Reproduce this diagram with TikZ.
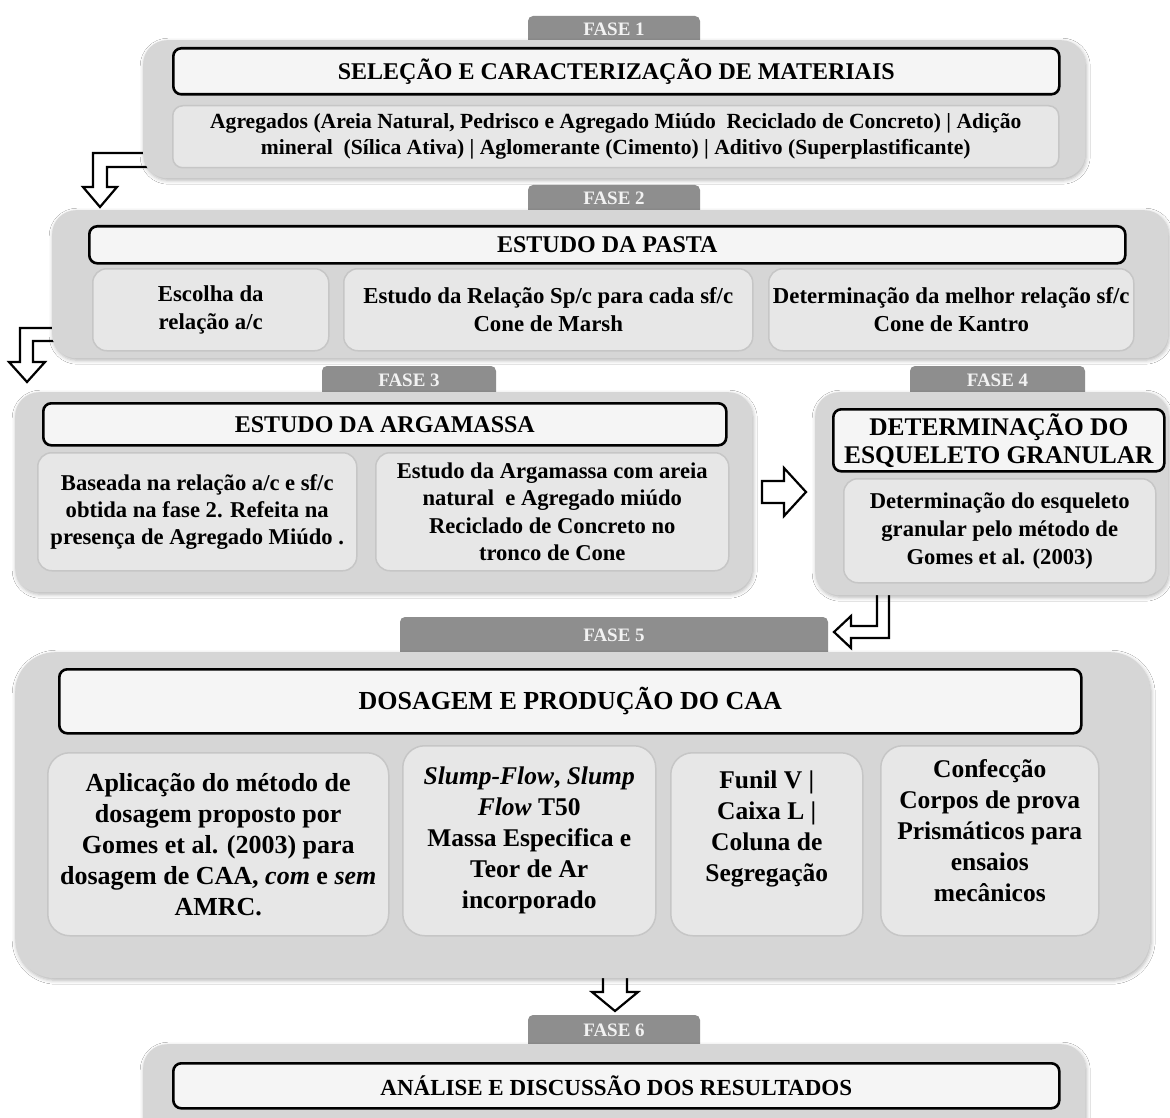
\documentclass[tikz,border=0pt]{standalone}
\usepackage{fontspec}
\setmainfont{Liberation Serif}
\usetikzlibrary{shadows.blur}
\definecolor{outerc}{HTML}{D6D6D6}
\definecolor{tabc}{HTML}{8E8E8E}
\definecolor{tabtxt}{HTML}{F2F2F2}
\definecolor{titlec}{HTML}{F5F5F5}
\definecolor{subc}{HTML}{E7E7E7}
\definecolor{subd}{HTML}{C6C6C6}
\newcommand\myfs[2]{\fontsize{#1}{#2}\selectfont\bfseries}
% style name x y w h text
\newcommand\mybox[7]{\node[#1, anchor=north west, minimum width=#5, minimum height=#6] (#2) at (#3,#4) {#7};}
% x1 y1 x2 y2 name text
\newcommand\mytab[6]{%
  \fill[tabc, rounded corners=5] (#1,#4+10) -- (#1,#2) -- (#3,#2) -- (#3,#4+10) -- cycle;
  \node[tabtext] (#5) at ({(#1+#3)/2},{(#2+#4)/2+1}) {#6};}
\begin{document}
\begin{tikzpicture}[x=1pt,y=-1pt,
  outer/.style={fill=outerc, draw=none, rounded corners=24, inner sep=0pt,
    blur shadow={shadow xshift=1pt, shadow yshift=-2pt, shadow blur radius=4pt, shadow opacity=30}},
  titlebox/.style={fill=titlec, draw=black, line width=2.6pt, rounded corners=8, inner sep=0pt, align=center},
  subbox/.style={fill=subc, draw=subd, line width=1.5pt, rounded corners=14, inner sep=0pt, align=center},
  tabtext/.style={text=tabtxt, font=\myfs{19}{21}, inner sep=0pt},
  openarrow/.style={fill=white, draw=black, line width=2.2pt, line join=miter}
]
\useasboundingbox (0,0) rectangle (1170,1118);
\fill[white] (0,0) rectangle (1170,1118);

% ---- tabs
\mytab{528}{16}{700}{40}{t1}{FASE 1}
\mytab{528}{185}{700}{210}{t2}{FASE 2}
\mytab{322}{366}{496}{392}{t3}{FASE 3}
\mytab{910}{366}{1085}{392}{t4}{FASE 4}
\mytab{400}{617}{828}{652}{t5}{FASE 5}
\mytab{528}{1015}{700}{1044}{t6}{FASE 6}

% ---- arrows (drawn under the boxes they leave)
\path[openarrow] (150,153) -- (93,153) -- (93,187) -- (83,187) -- (100,207) -- (117,187) -- (107,187) -- (107,167) -- (150,167);
\path[openarrow] (60,328) -- (20,328) -- (20,362) -- (9,362) -- (27,382) -- (45,362) -- (33,362) -- (33,341) -- (60,341);
\path[openarrow] (762,481) -- (784,481) -- (784,468) -- (806,492) -- (784,516) -- (784,503) -- (762,503) -- cycle;
\path[openarrow] (877,588) -- (877,626) -- (851,626) -- (851,616) -- (834,632) -- (851,648) -- (851,638) -- (889,638) -- (889,588);
\path[openarrow] (603,970) -- (603,992) -- (592,992) -- (615,1011) -- (638,992) -- (627,992) -- (627,970);

% ---- outer boxes
\mybox{outer}{p1}{143}{40}{942}{138}{}
\mybox{outer}{p2}{52}{210}{1116}{148}{}
\mybox{outer}{p3}{15}{392}{737}{200}{}
\mybox{outer}{p4}{815}{392}{353}{203}{}
\mybox{outer, rounded corners=40}{p5}{15}{652}{1135}{326}{}
\mybox{outer}{p6}{143}{1044}{942}{110}{}

% ---- phase 1
\mybox{titlebox, font=\myfs{24}{26}}{h1}{172}{47}{886}{46}{SELEÇÃO E CARACTERIZAÇÃO DE MATERIAIS}
\mybox{subbox, rounded corners=10, font=\myfs{21.6}{26}}{s1}{172}{105}{886}{62}{Agregados (Areia Natural, Pedrisco e Agregado Miúdo \ Reciclado de Concreto) | Adição\\mineral \ (Sílica Ativa) | Aglomerante (Cimento) | Aditivo (Superplastificante)}

% ---- phase 2
\mybox{titlebox, font=\myfs{24}{26}}{h2}{88}{225}{1036}{37}{ESTUDO DA PASTA}
\mybox{subbox, font=\myfs{22.8}{28}}{s2a}{92}{268}{236}{82}{Escolha da\\relação a/c}
\mybox{subbox, font=\myfs{22.8}{28}}{s2b}{343}{268}{409}{82}{Estudo da Relação Sp/c para cada sf/c\\Cone de Marsh}
\mybox{subbox, font=\myfs{22.8}{28}}{s2c}{768}{268}{365}{82}{Determinação da melhor relação sf/c\\Cone de Kantro}

% ---- phase 3
\mybox{titlebox, font=\myfs{24}{26}}{h3}{42}{402}{683}{42}{ESTUDO DA ARGAMASSA}
\mybox{subbox, font=\myfs{22.6}{27}}{s3a}{37}{452}{319}{118}{Baseada na relação a/c e sf/c\\obtida na fase 2. Refeita na\\presença de Agregado Miúdo .}
\mybox{subbox, font=\myfs{22.6}{27.5}}{s3b}{375}{452}{353}{118}{Estudo da Argamassa com areia\\natural \ e Agregado miúdo\\Reciclado de Concreto no\\tronco de Cone}

% ---- phase 4
\mybox{titlebox, font=\myfs{25.4}{28}}{h4}{832}{408}{331}{62}{DETERMINAÇÃO DO\\ESQUELETO GRANULAR}
\mybox{subbox, font=\myfs{22.6}{28}}{s4}{843}{478}{312}{104}{Determinação do esqueleto\\granular pelo método de\\Gomes et al. (2003)}

% ---- phase 5
\mybox{titlebox, font=\myfs{26}{30}}{h5}{58}{668}{1022}{64}{DOSAGEM E PRODUÇÃO DO CAA}
\mybox{subbox, rounded corners=22, font=\myfs{26}{31}}{s5a}{47}{752}{341}{183}{Aplicação do método de\\dosagem proposto por\\Gomes et al. (2003) para\\dosagem de CAA, \textit{com} e \textit{sem}\\AMRC.}
\mybox{subbox, rounded corners=22, font=\myfs{25.5}{31}}{s5b}{402}{745}{253}{190}{\textit{Slump-Flow}, \textit{Slump}\\\textit{Flow} T50\\Massa Especifica e\\Teor de Ar\\incorporado}
\mybox{subbox, rounded corners=22, font=\myfs{25.5}{31}}{s5c}{670}{752}{192}{183}{Funil V |\\Caixa L |\\Coluna de\\Segregação\\[6pt]}
\mybox{subbox, rounded corners=22, font=\myfs{25.5}{31}}{s5d}{880}{745}{218}{190}{Confecção\\Corpos de prova\\Prismáticos para\\ensaios\\mecânicos\\[-11pt]}

% ---- phase 6
\mybox{titlebox, font=\myfs{23}{25}}{h6}{172}{1062}{886}{45}{ANÁLISE E DISCUSSÃO DOS RESULTADOS}
\end{tikzpicture}
\end{document}
